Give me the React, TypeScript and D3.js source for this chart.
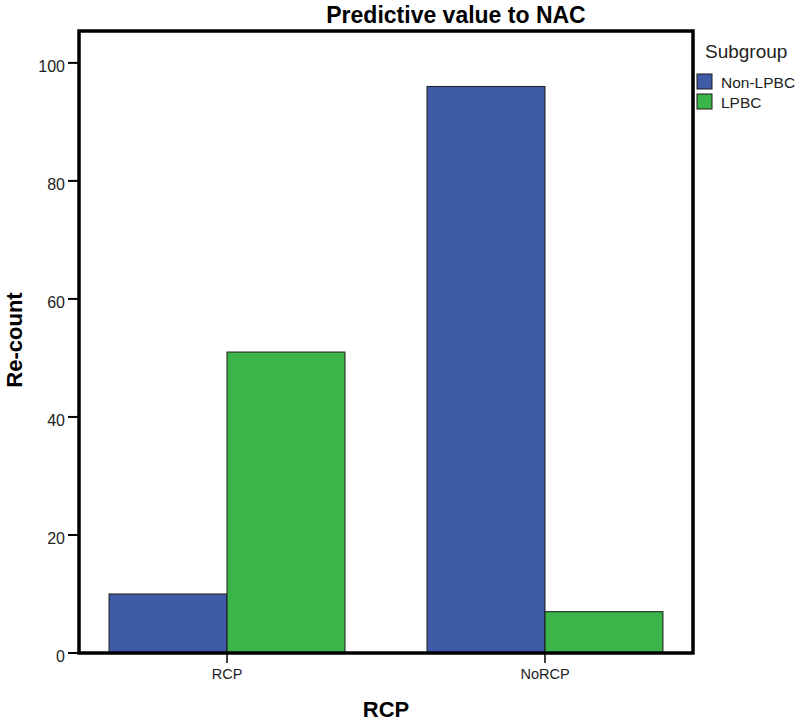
import React from "react";
import * as d3 from "d3";

const categories = ["RCP", "NoRCP"];
const subgroups = ["Non-LPBC", "LPBC"];
const nonLpbcValues = [10, 96];
const lpbcValues = [51, 7];
const yTicks = [0, 20, 40, 60, 80, 100];
const colors = ["#3F5AA7", "#3BB44A"];
const title = "Predictive value to NAC";
const xLabel = "RCP";
const yLabel = "Re-count";
const legendTitle = "Subgroup";

const W = 797;
const H = 724;
const plot = { left: 79, right: 693, top: 31, bottom: 653 };
const FONT = "Arial, 'Liberation Sans', sans-serif";

export default function App() {
  const x = d3
    .scaleBand<string>()
    .domain(categories)
    .range([plot.left, plot.right])
    .paddingInner(0.258)
    .paddingOuter(0.0945);
  const xSub = d3.scaleBand<string>().domain(subgroups).range([0, x.bandwidth()]).padding(0);
  const y = d3.scaleLinear().domain([0, 105.4]).range([plot.bottom, plot.top]);
  const series = [nonLpbcValues, lpbcValues];
  const color = d3.scaleOrdinal<string, string>().domain(subgroups).range(colors);

  return (
    <svg width={W} height={H} style={{ position: "absolute", left: 0, top: 0, background: "#fff" }} fontFamily={FONT}>
      <rect x={0} y={0} width={W} height={H} fill="#fff" />
      {/* bars */}
      {categories.map((c, ci) =>
        subgroups.map((s, si) => {
          const v = series[si][ci];
          const bx = (x(c) as number) + (xSub(s) as number);
          return (
            <rect
              key={c + s}
              x={bx}
              y={y(v)}
              width={xSub.bandwidth()}
              height={y(0) - y(v)}
              fill={color(s)}
              stroke="#1a1a1a"
              strokeWidth={1}
            />
          );
        })
      )}
      {/* frame */}
      <rect
        x={plot.left}
        y={plot.top}
        width={plot.right - plot.left}
        height={plot.bottom - plot.top}
        fill="none"
        stroke="#000"
        strokeWidth={3.5}
      />
      {/* y ticks */}
      {yTicks.map((t) => (
        <g key={t}>
          <line x1={plot.left - 11} x2={plot.left} y1={y(t)} y2={y(t)} stroke="#000" strokeWidth={2} />
          <text x={plot.left - 14} y={y(t) + 9} textAnchor="end" fontSize={16} fill="#222">
            {t}
          </text>
        </g>
      ))}
      {/* x ticks */}
      {categories.map((c) => {
        const cx = (x(c) as number) + x.bandwidth() / 2;
        return (
          <g key={c}>
            <line x1={cx} x2={cx} y1={plot.bottom} y2={plot.bottom + 10} stroke="#000" strokeWidth={1.5} />
            <text x={cx} y={679} textAnchor="middle" fontSize={14.5} fill="#222">
              {c}
            </text>
          </g>
        );
      })}
      {/* title */}
      <text x={456} y={23} textAnchor="middle" fontSize={23} fontWeight="bold" fill="#000">
        {title}
      </text>
      {/* axis labels */}
      <text x={386} y={717} textAnchor="middle" fontSize={22} fontWeight="bold" fill="#000">
        {xLabel}
      </text>
      <text
        transform={`translate(22, 340) rotate(-90)`}
        textAnchor="middle"
        fontSize={22}
        fontWeight="bold"
        fill="#000"
      >
        {yLabel}
      </text>
      {/* legend */}
      <text x={705} y={58} fontSize={19} fill="#222">
        {legendTitle}
      </text>
      {subgroups.map((s, i) => (
        <g key={s}>
          <rect x={697} y={74 + i * 20} width={15} height={15} fill={color(s)} stroke="#1a1a1a" strokeWidth={1} />
          <text x={721} y={88 + i * 20} fontSize={15.5} fill="#222">
            {s}
          </text>
        </g>
      ))}
    </svg>
  );
}
